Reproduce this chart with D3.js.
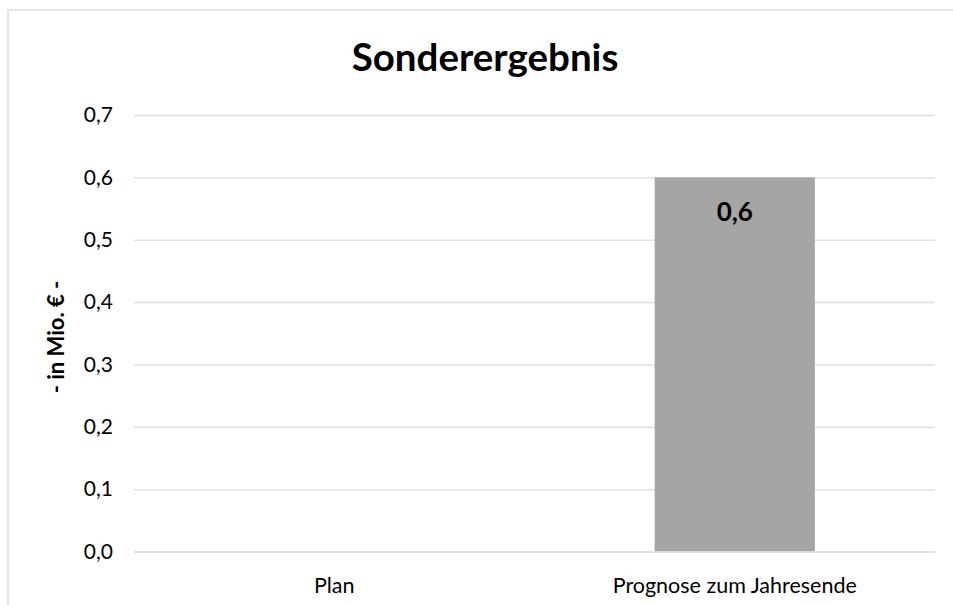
<!DOCTYPE html>
<html><head><meta charset="utf-8">
<script src="https://cdn.jsdelivr.net/npm/d3@7"></script>
<style>body{margin:0;background:#fff}svg{display:block}text{font-family:Lato,"Open Sans",sans-serif}</style>
</head><body><svg id="c" width="953" height="605"></svg>
<script>
const categories = ["Plan", "Prognose zum Jahresende"];
const values = [null, 0.6];
const valueLabels = ["", "0,6"];
const yTicks = [0, 0.1, 0.2, 0.3, 0.4, 0.5, 0.6, 0.7];
const title = "Sonderergebnis";
const yTitle = "- in Mio. € -";

const svg = d3.select("#c");
const m = {left:134, right:935, top:115, bottom:551.5};
svg.append("rect").attr("x",8).attr("y",10).attr("width",960).attr("height",620)
  .attr("fill","#fff").attr("stroke","#d9dde3").attr("stroke-width",1.5);

const x = d3.scaleBand().domain(categories).range([m.left,m.right]).paddingInner(0.6).paddingOuter(0.3);
const y = d3.scaleLinear().domain([0,0.7]).range([m.bottom,m.top]);

const fmt = d => d3.format(".1f")(d).replace(".",",");
const ya = svg.append("g").attr("transform",`translate(${m.left},0)`)
  .call(d3.axisLeft(y).tickValues(yTicks).tickFormat(fmt).tickSize(-(m.right-m.left)).tickPadding(21));
ya.select(".domain").remove();
ya.selectAll("line").attr("stroke","#dcdfe5").attr("stroke-width",1.5);
ya.selectAll("text").attr("font-size",21).attr("fill","#000");

const rows = categories.map((c,i)=>({c,v:values[i],l:valueLabels[i]})).filter(d=>d.v!=null);
svg.selectAll("rect.bar").data(rows)
  .enter().append("rect").attr("class","bar")
  .attr("x",d=>x(d.c)).attr("width",x.bandwidth())
  .attr("y",d=>y(d.v)).attr("height",d=>y(0)-y(d.v)).attr("fill","#a5a5a5");

svg.selectAll("text.vl").data(rows)
  .enter().append("text").attr("class","vl")
  .attr("x",d=>x(d.c)+x.bandwidth()/2).attr("y",d=>y(d.v)+44)
  .attr("text-anchor","middle").attr("font-size",26).attr("font-weight","bold").text(d=>d.l);

const xa = svg.append("g").attr("transform",`translate(0,${m.bottom})`)
  .call(d3.axisBottom(x).tickSize(0).tickPadding(26));
xa.select(".domain").attr("stroke","#dcdfe5").attr("stroke-width",1.5);
xa.selectAll("text").attr("font-size",21.5).attr("fill","#000");

svg.append("text").attr("x",485).attr("y",71).attr("text-anchor","middle")
  .attr("font-size",38.5).attr("font-weight","bold").text(title);

svg.append("text").attr("transform","translate(64,337) rotate(-90)").attr("text-anchor","middle")
  .attr("font-size",22).attr("font-weight","bold").text(yTitle);
</script></body></html>
